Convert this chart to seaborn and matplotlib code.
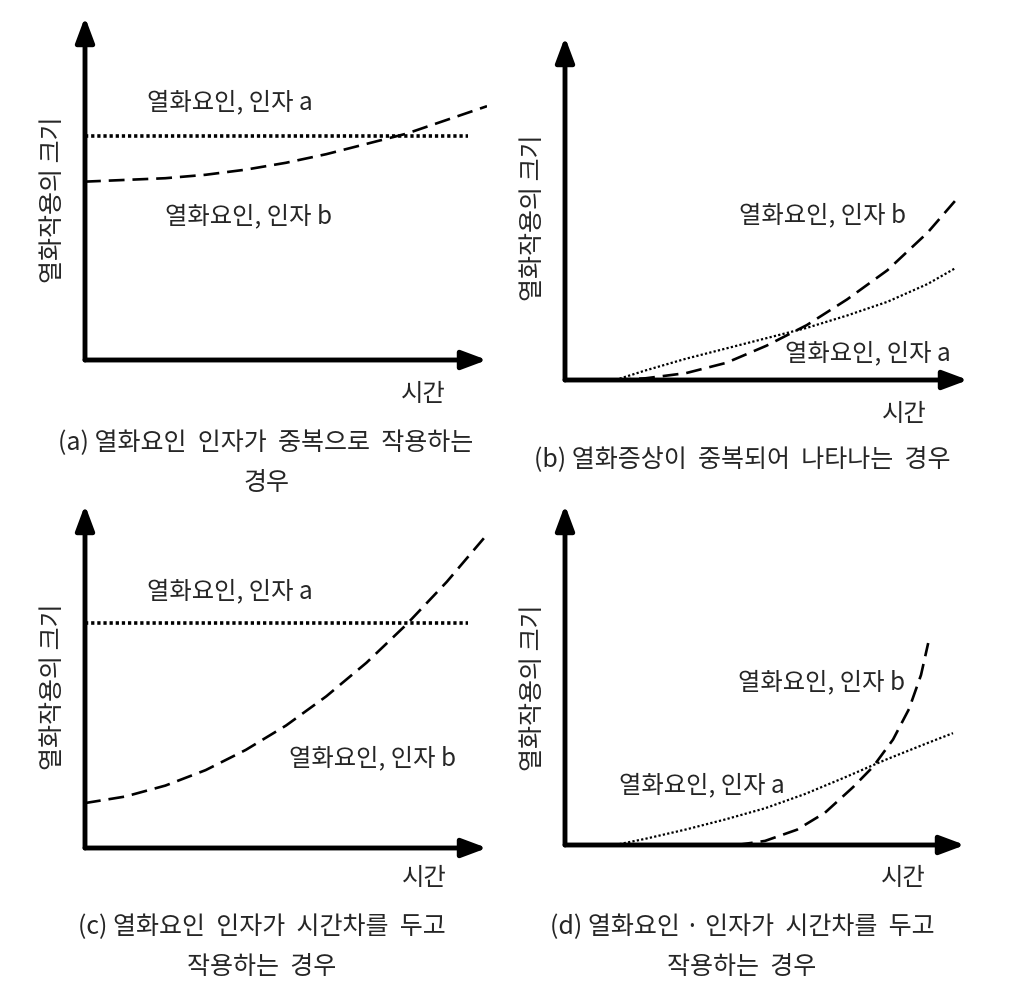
import matplotlib
matplotlib.use("Agg")
import matplotlib.pyplot as plt
import seaborn as sns

sns.set_style("white")
plt.rcParams['font.family'] = ['Noto Sans CJK KR', 'DejaVu Sans']

# 공통 텍스트
y_label = "열화작용의 크기"
x_label = "시간"
label_a = "열화요인, 인자 a"
label_b = "열화요인, 인자 b"

# (a) 열화요인 인자가 중복으로 작용
a_x_a = [0, 9.53]
a_y_a = [6.54, 6.54]
a_x_b = [0, 1, 2, 3, 4, 5, 6, 7, 8, 9, 10]
a_y_b = [5.2, 5.25, 5.3, 5.4, 5.55, 5.75, 6.0, 6.3, 6.6, 7.0, 7.4]

# (b) 열화증상이 중복
b_x_a = [1.25, 2, 3, 4, 5, 6, 7, 8, 9, 9.7]
b_y_a = [0, 0.28, 0.62, 0.92, 1.22, 1.52, 1.88, 2.28, 2.8, 3.27]
b_x_b = [1.25, 2, 3, 4, 5, 6, 7, 8, 9, 9.7]
b_y_b = [0, 0.05, 0.2, 0.5, 1.0, 1.6, 2.35, 3.2, 4.3, 5.25]

# (c) 시간차를 두고 작용
c_x_a = [0, 9.53]
c_y_a = [6.56, 6.56]
c_x_b = [0, 1, 2, 3, 4, 5, 6, 7, 8, 9, 9.95]
c_y_b = [1.31, 1.5, 1.82, 2.27, 2.86, 3.57, 4.42, 5.4, 6.52, 7.76, 9.07]

# (d) 열화요인 · 인자가 시간차를 두고 작용
d_x_a = [1.25, 2, 3, 4, 5, 6, 7, 8, 9, 9.7]
d_y_a = [0, 0.18, 0.45, 0.75, 1.08, 1.5, 1.99, 2.5, 2.97, 3.29]
d_x_b = [4.3, 5, 5.8, 6.5, 7.2, 7.7, 8.2, 8.6, 8.9, 9.08]
d_y_b = [0, 0.12, 0.45, 0.95, 1.7, 2.3, 3.1, 4.0, 5.0, 5.94]

captions = [
    ["(a) 열화요인  인자가  중복으로  작용하는", "경우"],
    ["(b) 열화증상이  중복되어  나타나는  경우"],
    ["(c) 열화요인  인자가  시간차를  두고", "작용하는  경우"],
    ["(d) 열화요인 · 인자가  시간차를  두고", "작용하는  경우"],
]

W, H = 1032, 984
fig = plt.figure(figsize=(W / 100, H / 100), dpi=100)


def make_axes(left, right, bottom, top):
    # 픽셀 좌표 -> figure 비율
    ax = fig.add_axes([left / W, 1 - bottom / H, (right - left) / W, (bottom - top) / H])
    ax.set_xlim(0, 10)
    ax.set_ylim(0, 10)
    ax.axis("off")
    arrow = dict(arrowstyle="-|>,head_length=0.75,head_width=0.28", lw=3.5, color="k",
                 mutation_scale=20, shrinkA=0, shrinkB=0)
    ax.annotate("", xy=(1, 0), xytext=(0, 0), xycoords="axes fraction", arrowprops=arrow)
    ax.annotate("", xy=(0, 1), xytext=(0, 0), xycoords="axes fraction", arrowprops=arrow)
    return ax


dash_b = (0, (6, 3))
dot_thick = (0, (0.9, 0.8))
dot_thin = (0, (1, 1))
fs = 17.5

panels = [
    dict(box=(85, 487, 360, 17), xa=a_x_a, ya=a_y_a, xb=a_x_b, yb=a_y_b, dot=dot_thick, dlw=2.6,
         ta=(3.61, 7.52), tb=(4.06, 4.2), ylab=(53, 200), xlab=(423, 394)),
    dict(box=(565, 968, 380, 37), xa=b_x_a, ya=b_y_a, xb=b_x_b, yb=b_y_b, dot=dot_thin, dlw=1.6,
         ta=(7.52, 0.79), tb=(6.4, 4.81), ylab=(533, 218), xlab=(904, 414)),
    dict(box=(85, 487, 848, 505), xa=c_x_a, ya=c_y_a, xb=c_x_b, yb=c_y_b, dot=dot_thick, dlw=2.6,
         ta=(3.61, 7.48), tb=(7.14, 2.62), ylab=(53, 687), xlab=(424, 878)),
    dict(box=(565, 965, 845, 505), xa=d_x_a, ya=d_y_a, xb=d_x_b, yb=d_y_b, dot=dot_thin, dlw=1.6,
         ta=(3.43, 1.76), tb=(6.4, 4.79), ylab=(533, 688), xlab=(903, 878)),
]

for p in panels:
    ax = make_axes(*p["box"])
    sns.lineplot(x=p["xa"], y=p["ya"], ax=ax, color="k", lw=p["dlw"], linestyle=p["dot"])
    sns.lineplot(x=p["xb"], y=p["yb"], ax=ax, color="k", lw=1.9, linestyle=dash_b)
    ax.text(*p["ta"], label_a, ha="center", va="center", fontsize=fs)
    ax.text(*p["tb"], label_b, ha="center", va="center", fontsize=fs)
    fig.text(p["ylab"][0] / W, 1 - p["ylab"][1] / H, y_label, rotation=90,
             ha="center", va="center", fontsize=18)
    fig.text(p["xlab"][0] / W, 1 - p["xlab"][1] / H, x_label,
             ha="center", va="center", fontsize=fs)

cap_pos = [(266, 443), (742, 459), (262, 927), (742, 927)]
for lines, (cx, cy) in zip(captions, cap_pos):
    for i, line in enumerate(lines):
        fig.text(cx / W, 1 - (cy + i * 40) / H, line, ha="center", va="center",
                 fontsize=18)

fig.savefig("out.png", dpi=100, facecolor="white")
